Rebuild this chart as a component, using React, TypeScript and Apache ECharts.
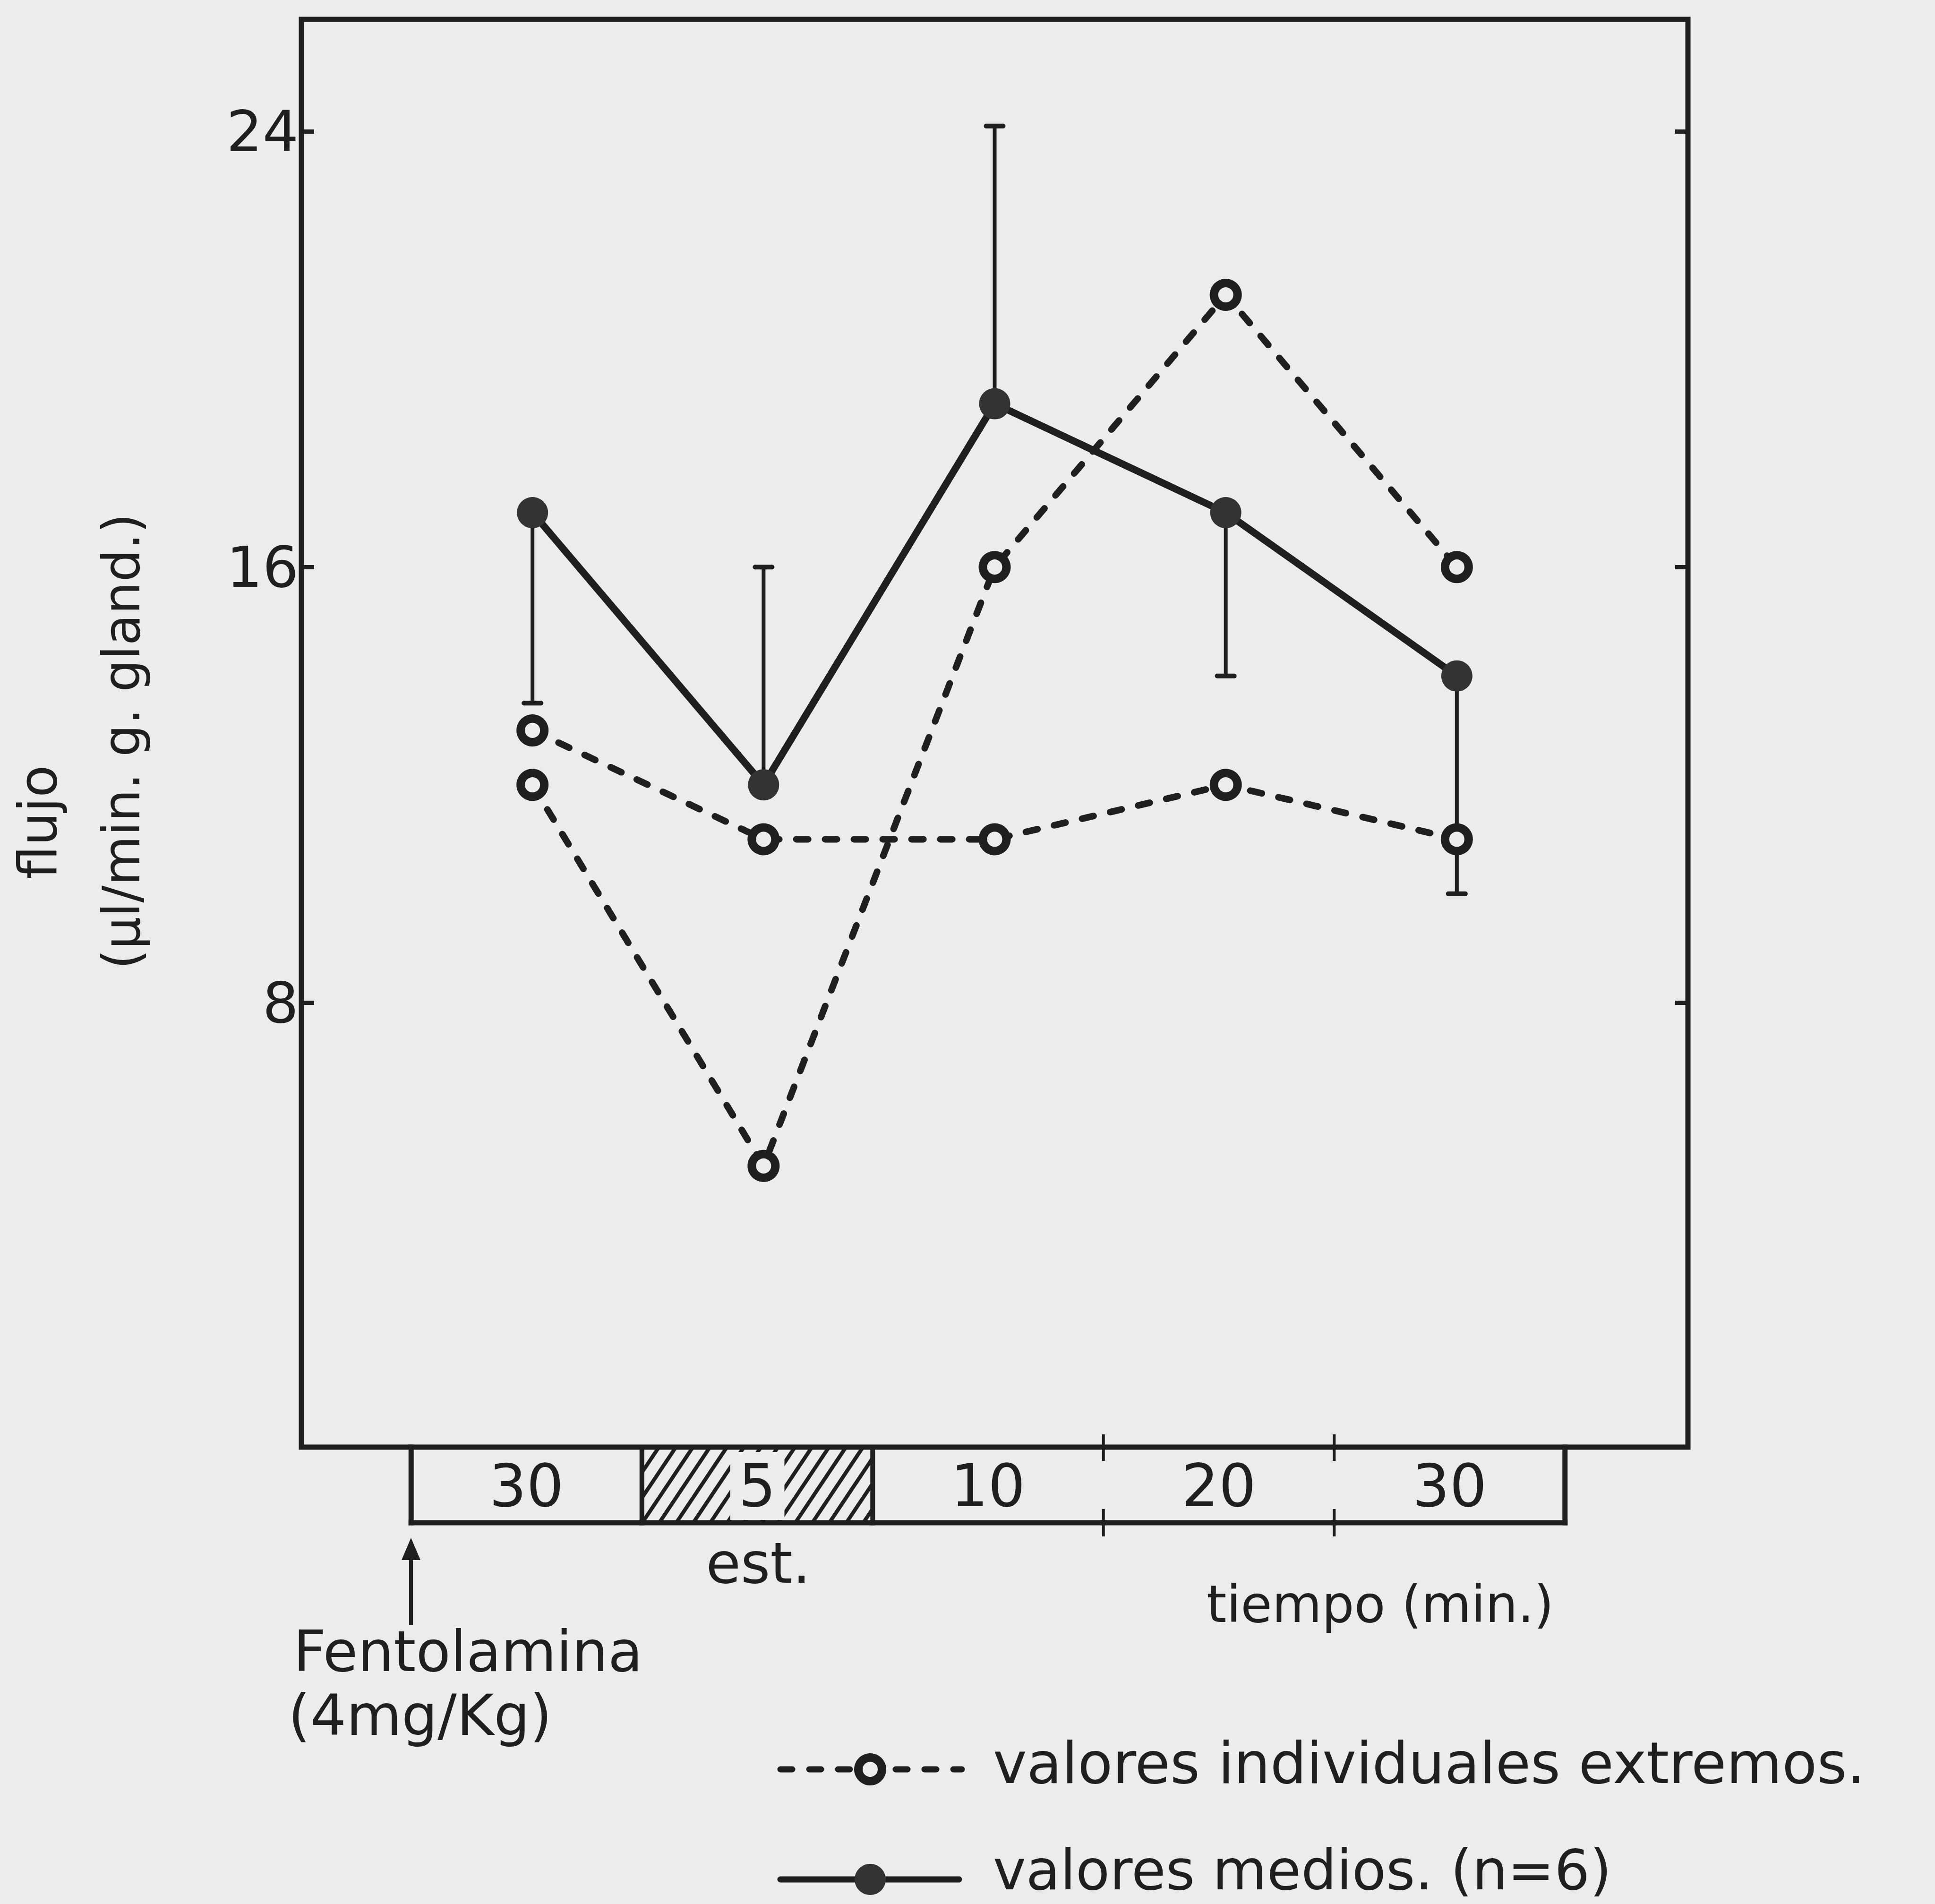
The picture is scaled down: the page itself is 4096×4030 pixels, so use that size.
import React, { useEffect, useRef } from "react";
import * as echarts from "echarts";

// ---- data ----
const segmentLabels = ["30", "5", "10", "20", "30"];
const segmentHatched = [false, true, false, false, false];
const meanValues = [17.0, 12.0, 19.0, 17.0, 14.0];
const errorEnds = [13.5, 16.0, 24.1, 14.0, 10.0];
const extremeA = [12.0, 5.0, 16.0, 21.0, 16.0];
const extremeB = [13.0, 11.0, 11.0, 12.0, 11.0];
const yTicks = [8, 16, 24];

const INK = "#1f1f1f";
const BG = "#ececec";
const FONT = "'DejaVu Sans', 'Liberation Sans', sans-serif";

export default function App() {
  const ref = useRef<HTMLDivElement>(null);

  useEffect(() => {
    const chart = echarts.init(ref.current as HTMLDivElement, null, { renderer: "svg" });
    const pts = (vals: number[]) => vals.map((v, i) => [i + 0.5, v]);
    const errData = meanValues.map((m, i) => [i + 0.5, m, errorEnds[i]]);
    const segData = segmentLabels.map((_, i) => [i, i + 1, i]);

    const yAxisCommon = {
      type: "value",
      min: -0.165,
      max: 26.06,
      splitLine: { show: false },
      axisLine: { show: false, onZero: false },
      axisTick: {
        show: true,
        inside: true,
        length: 27,
        customValues: yTicks,
        lineStyle: { color: INK, width: 9 },
      },
    };

    const option: any = {
      animation: false,
      backgroundColor: BG,
      grid: [
        {
          left: 638,
          right: 523,
          top: 41,
          height: 3022,
          show: true,
          borderColor: INK,
          borderWidth: 11,
          backgroundColor: "transparent",
        },
        { left: 626, right: 539, top: 3063, height: 160, show: false },
      ],
      xAxis: [
        { type: "value", gridIndex: 0, min: -0.5, max: 5.5, show: false, axisLine: { onZero: false } },
        { type: "value", gridIndex: 1, min: -0.5, max: 5.5, show: false, axisLine: { onZero: false } },
      ],
      yAxis: [
        {
          ...yAxisCommon,
          gridIndex: 0,
          position: "left",
          axisLabel: {
            show: true,
            customValues: yTicks,
            fontSize: 120,
            fontFamily: FONT,
            color: INK,
            margin: 6,
          },
        },
        {
          ...yAxisCommon,
          gridIndex: 0,
          position: "right",
          axisLabel: { show: false },
        },
        { type: "value", gridIndex: 1, min: 0, max: 1, show: false, axisLine: { onZero: false } },
      ],
      series: [
        {
          type: "custom",
          name: "error",
          xAxisIndex: 0,
          yAxisIndex: 0,
          z: 2,
          encode: { x: 0, y: [1, 2] },
          data: errData,
          renderItem: (params: any, api: any) => {
            const x = api.value(0);
            const a = api.coord([x, api.value(1)]);
            const b = api.coord([x, api.value(2)]);
            return {
              type: "group",
              children: [
                {
                  type: "line",
                  shape: { x1: a[0], y1: a[1], x2: b[0], y2: b[1] },
                  style: { stroke: INK, lineWidth: 8 },
                },
                {
                  type: "line",
                  shape: { x1: b[0] - 18, y1: b[1], x2: b[0] + 18, y2: b[1] },
                  style: { stroke: INK, lineWidth: 10, lineCap: "round" },
                },
              ],
            };
          },
        },
        {
          type: "line",
          name: "extA",
          xAxisIndex: 0,
          yAxisIndex: 0,
          z: 3,
          data: pts(extremeA),
          symbol: "circle",
          symbolSize: 50,
          itemStyle: { color: BG, borderColor: INK, borderWidth: 18 },
          lineStyle: { color: INK, width: 14, type: [25, 36], cap: "round" },
        },
        {
          type: "line",
          name: "extB",
          xAxisIndex: 0,
          yAxisIndex: 0,
          z: 3,
          data: pts(extremeB),
          symbol: "circle",
          symbolSize: 50,
          itemStyle: { color: BG, borderColor: INK, borderWidth: 18 },
          lineStyle: { color: INK, width: 14, type: [25, 36], cap: "round" },
        },
        {
          type: "line",
          name: "mean",
          xAxisIndex: 0,
          yAxisIndex: 0,
          z: 4,
          data: pts(meanValues),
          symbol: "circle",
          symbolSize: 66,
          itemStyle: { color: "#333333", borderWidth: 0 },
          lineStyle: { color: INK, width: 15 },
        },
        {
          type: "custom",
          name: "timeline",
          xAxisIndex: 1,
          yAxisIndex: 2,
          clip: false,
          z: 5,
          encode: { x: [0, 1] },
          data: segData,
          renderItem: (params: any, api: any) => {
            const i = api.value(2);
            const s = api.coord([api.value(0), 1]);
            const e = api.coord([api.value(1), 0]);
            const x0 = s[0];
            const yt = s[1];
            const x1 = e[0];
            const yb = e[1];
            const n = segmentLabels.length;
            const hatched = segmentHatched[i];
            const ch: any[] = [];
            const ln = (ax: number, ay: number, bx: number, by: number, w: number) => ({
              type: "line",
              shape: { x1: ax, y1: ay, x2: bx, y2: by },
              style: { stroke: INK, lineWidth: w, lineCap: "square" },
            });
            if (hatched) {
              const h = yb - yt;
              const k = 0.67;
              for (let u = x0 - h * k; u < x1; u += 36) {
                const tMin = Math.max(0, (x0 - u) / (h * k));
                const tMax = Math.min(1, (x1 - u) / (h * k));
                if (tMin < tMax) {
                  ch.push({
                    type: "line",
                    shape: {
                      x1: u + tMin * h * k,
                      y1: yb - tMin * h,
                      x2: u + tMax * h * k,
                      y2: yb - tMax * h,
                    },
                    style: { stroke: INK, lineWidth: 8 },
                  });
                }
              }
              ch.push(ln(x0, yt, x0, yb, 10));
              ch.push(ln(x1, yt, x1, yb, 10));
            }
            ch.push(ln(x0, yb, x1, yb, 11));
            if (i === 0) ch.push(ln(x0, yt, x0, yb, 11));
            if (i === n - 1) ch.push(ln(x1, yt, x1, yb, 11));
            if (i > 0 && !hatched && !segmentHatched[i - 1]) {
              ch.push(ln(x0, yt - 24, x0, yt + 26, 6));
              ch.push(ln(x0, yb - 26, x0, yb + 26, 6));
            }
            ch.push({
              type: "text",
              x: (x0 + x1) / 2,
              y: (yt + yb) / 2 + 2,
              style: {
                text: segmentLabels[i],
                fontSize: 124,
                fontFamily: FONT,
                fill: INK,
                align: "center",
                verticalAlign: "middle",
                backgroundColor: hatched ? BG : undefined,
                padding: hatched ? [10, 18] : 0,
              },
            });
            return { type: "group", children: ch };
          },
        },
      ],
      graphic: [
        {
          type: "text",
          x: 80,
          y: 1740,
          rotation: Math.PI / 2,
          style: {
            text: "flujo",
            fontSize: 112,
            fontFamily: FONT,
            fill: INK,
            align: "center",
            verticalAlign: "middle",
          },
        },
        {
          type: "text",
          x: 257,
          y: 1569,
          rotation: Math.PI / 2,
          style: {
            text: "(µl/min. g. gland.)",
            fontSize: 108,
            fontFamily: FONT,
            fill: INK,
            align: "center",
            verticalAlign: "middle",
          },
        },
        {
          type: "line",
          shape: { x1: 870, y1: 3290, x2: 870, y2: 3440 },
          style: { stroke: INK, lineWidth: 8 },
        },
        {
          type: "polygon",
          shape: { points: [[870, 3255], [850, 3302], [890, 3302]] },
          style: { fill: INK },
        },
        {
          type: "text",
          x: 1605,
          y: 3308,
          style: { text: "est.", fontSize: 120, fontFamily: FONT, fill: INK, align: "center", verticalAlign: "middle" },
        },
        {
          type: "text",
          x: 2554,
          y: 3395,
          style: { text: "tiempo (min.)", fontSize: 108, fontFamily: FONT, fill: INK, align: "left", verticalAlign: "middle" },
        },
        {
          type: "text",
          x: 621,
          y: 3495,
          style: { text: "Fentolamina", fontSize: 120, fontFamily: FONT, fill: INK, align: "left", verticalAlign: "middle" },
        },
        {
          type: "text",
          x: 610,
          y: 3630,
          style: { text: "(4mg/Kg)", fontSize: 120, fontFamily: FONT, fill: INK, align: "left", verticalAlign: "middle" },
        },
        // legend: extremes
        {
          type: "line",
          shape: { x1: 1652, y1: 3745, x2: 2036, y2: 3745 },
          style: { stroke: INK, lineWidth: 13, lineDash: [25, 36], lineCap: "round" },
        },
        {
          type: "circle",
          shape: { cx: 1842, cy: 3745, r: 25 },
          style: { fill: BG, stroke: INK, lineWidth: 18 },
        },
        {
          type: "text",
          x: 2102,
          y: 3732,
          style: {
            text: "valores individuales extremos.",
            fontSize: 121,
            fontFamily: FONT,
            fill: INK,
            align: "left",
            verticalAlign: "middle",
          },
        },
        // legend: means
        {
          type: "line",
          shape: { x1: 1652, y1: 3978, x2: 2030, y2: 3978 },
          style: { stroke: INK, lineWidth: 13, lineCap: "round" },
        },
        {
          type: "circle",
          shape: { cx: 1842, cy: 3978, r: 33 },
          style: { fill: "#333333" },
        },
        {
          type: "text",
          x: 2102,
          y: 3958,
          style: {
            text: "valores medios. (n=6)",
            fontSize: 118,
            fontFamily: FONT,
            fill: INK,
            align: "left",
            verticalAlign: "middle",
          },
        },
      ],
    };

    chart.setOption(option);
    return () => {
      chart.dispose();
    };
  }, []);

  return (
    <div
      ref={ref}
      style={{ position: "absolute", left: 0, top: 0, width: 4096, height: 4030 }}
    />
  );
}
